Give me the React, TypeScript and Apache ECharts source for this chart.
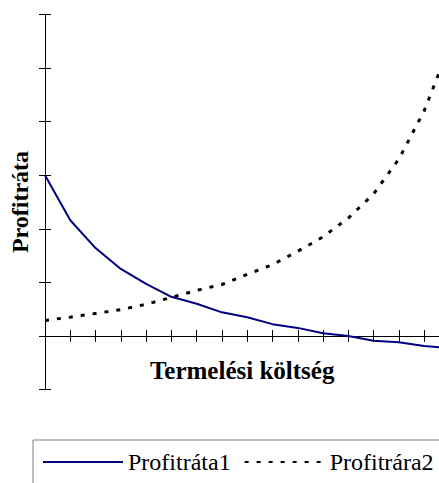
import React, { useEffect, useRef } from "react";
import * as echarts from "echarts";

const categories = ["1", "2", "3", "4", "5", "6", "7", "8", "9", "10", "11", "12", "13", "14", "15", "16", "17"];
const profit1 = [3.0, 2.16, 1.64, 1.25, 0.97, 0.73, 0.6, 0.44, 0.35, 0.22, 0.15, 0.05, 0.0, -0.09, -0.12, -0.19, -0.23];
const profit2 = [0.29, 0.35, 0.42, 0.49, 0.59, 0.72, 0.85, 0.96, 1.15, 1.33, 1.58, 1.85, 2.2, 2.65, 3.3, 4.2, 5.4];
const seriesNames = ["Profitráta1", "Profitrára2"];
const yTitle = "Profitráta";
const xTitle = "Termelési költség";

const FONT = "Liberation Serif";

export default function App() {
  const ref = useRef<HTMLDivElement>(null);
  useEffect(() => {
    if (!ref.current) return;
    const chart = echarts.init(ref.current, null, { renderer: "svg" });
    const axisLine = { show: true, onZero: true, onZeroAxisIndex: 0, lineStyle: { color: "#000", width: 1 } };
    chart.setOption({
      animation: false,
      backgroundColor: "#fff",
      textStyle: { fontFamily: FONT },
      grid: { left: 43, top: 14.5, right: 30.6, bottom: 130.5, containLabel: false },
      legend: {
        data: seriesNames,
        left: 33,
        top: 440,
        padding: [10, 10, 30, 9],
        itemWidth: 80,
        itemHeight: 14,
        itemGap: 13,
        borderColor: "#808080",
        borderWidth: 1,
        itemStyle: { opacity: 0 },
        textStyle: { fontFamily: FONT, fontSize: 24, color: "#000" },
      },
      xAxis: [
        {
          type: "category",
          data: categories,
          boundaryGap: false,
          axisLine,
          axisTick: { show: true, inside: false, length: 6, lineStyle: { color: "#000" } },
          axisLabel: { show: false },
          splitLine: { show: false },
          name: xTitle,
          nameLocation: "middle",
          nameGap: -32,
          nameTextStyle: { fontFamily: FONT, fontSize: 25, fontWeight: "bold", color: "#000", padding: [0, 10, 0, 0] },
        },
        {
          type: "category",
          data: categories,
          boundaryGap: false,
          position: "bottom",
          axisLine,
          axisTick: { show: true, inside: true, length: 6, lineStyle: { color: "#000" } },
          axisLabel: { show: false },
          splitLine: { show: false },
        },
      ],
      yAxis: [
        {
          type: "value",
          min: -1,
          max: 6,
          interval: 1,
          position: "left",
          axisLine: { show: true, onZero: false, lineStyle: { color: "#000", width: 1 } },
          axisTick: { show: true, inside: false, length: 6, lineStyle: { color: "#000" } },
          axisLabel: { show: false },
          splitLine: { show: false },
          name: yTitle,
          nameLocation: "middle",
          nameRotate: 90,
          nameGap: 13,
          nameTextStyle: { fontFamily: FONT, fontSize: 24, fontWeight: "bold", color: "#000" },
        },
        {
          type: "value",
          min: -1,
          max: 6,
          interval: 1,
          position: "left",
          axisLine: { show: true, onZero: false, lineStyle: { color: "#000", width: 1 } },
          axisTick: { show: true, inside: true, length: 6, lineStyle: { color: "#000" } },
          axisLabel: { show: false },
          splitLine: { show: false },
        },
      ],
      series: [
        {
          name: seriesNames[0],
          type: "line",
          data: profit1,
          symbol: "none",
          lineStyle: { color: "#000080", width: 2 },
          itemStyle: { color: "#000080" },
        },
        {
          name: seriesNames[1],
          type: "line",
          data: profit2,
          symbol: "none",
          lineStyle: { color: "#000", width: 3, type: [4, 8] },
          itemStyle: { color: "#000" },
        },
      ],
    });
    return () => chart.dispose();
  }, []);
  return (
    <div style={{ position: "fixed", left: 0, top: 0, width: 439, height: 483, overflow: "hidden", background: "#fff" }}>
      <div ref={ref} style={{ width: 480, height: 520 }} />
    </div>
  );
}
